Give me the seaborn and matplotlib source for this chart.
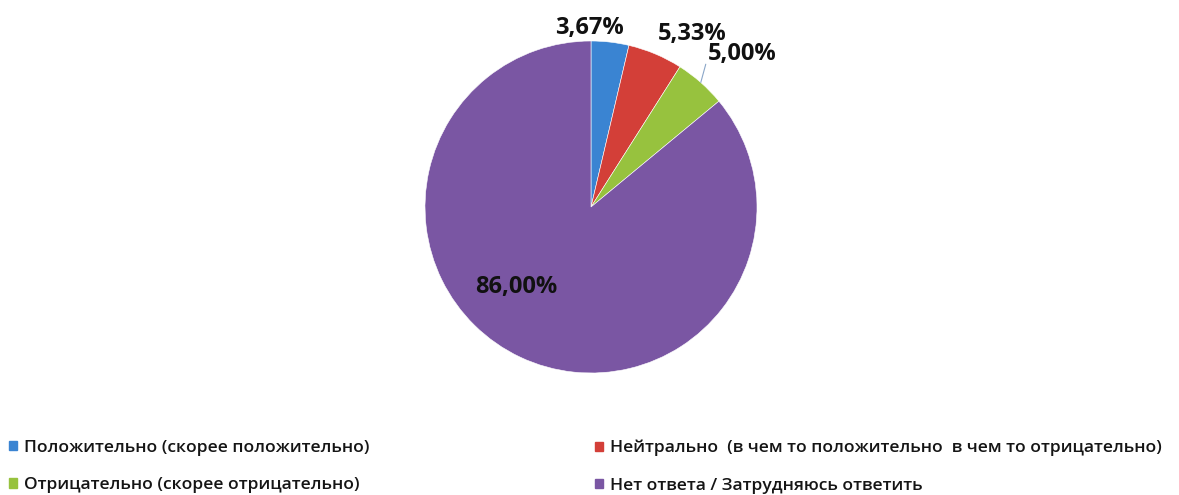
import matplotlib.pyplot as plt
import matplotlib.patches as mpatches
import numpy as np
import seaborn as sns

# Survey answers, shares in percent
categories = [
    "Положительно (скорее положительно)",
    "Нейтрально  (в чем то положительно  в чем то отрицательно)",
    "Отрицательно (скорее отрицательно)",
    "Нет ответа / Затрудняюсь ответить",
]
shares = [3.67, 5.33, 5.00, 86.00]
pct_labels = ["3,67%", "5,33%", "5,00%", "86,00%"]
colors = ["#3a84d2", "#d33f38", "#97c23e", "#7a56a3"]

sns.set_theme(style="white")
plt.rcParams["font.family"] = ["Open Sans", "DejaVu Sans"]

W, H = 1179, 495
fig = plt.figure(figsize=(W / 100, H / 100), dpi=100)

# pie centre and radius in pixels
cx, cy, r = 591, 207, 166
ax = fig.add_axes([(cx - r) / W, (H - cy - r) / H, 2 * r / W, 2 * r / H])

wedges, _ = ax.pie(
    shares,
    colors=colors,
    startangle=90,
    counterclock=False,
    wedgeprops={"edgecolor": "white", "linewidth": 0.4},
)
ax.set_xlim(-1, 1)
ax.set_ylim(-1, 1)
ax.set_aspect("equal")
ax.axis("off")

# label offsets (in pie radii) placed like the original
label_pos = [(-0.01, 1.08), (0.61, 1.04), (0.91, 0.92), (-0.45, -0.48)]
for (x, y), txt in zip(label_pos, pct_labels):
    ax.text(x, y, txt, ha="center", va="center", fontsize=17,
            fontweight="bold", color="#111111", clip_on=False)

# leader line for the green slice
ang = np.deg2rad(90 - (shares[0] + shares[1] + shares[2] / 2) * 3.6)
ax.plot([np.cos(ang), np.cos(ang) + 0.03],
        [np.sin(ang), np.sin(ang) + 0.11],
        color="#8aa6c8", lw=0.8, clip_on=False)

handles = [mpatches.Patch(color=c, label=l) for c, l in zip(colors, categories)]
leg_kw = dict(frameon=False, handlelength=0.45, handleheight=0.45,
              handletextpad=0.4, labelspacing=1.21, borderaxespad=0,
              labelcolor="#151515",
              prop={"weight": "semibold", "size": 12.6})
fig.legend(handles=[handles[0], handles[2]], loc="upper left",
           bbox_to_anchor=(2 / W, 1 - 433 / H), **leg_kw)
fig.legend(handles=[handles[1], handles[3]], loc="upper left",
           bbox_to_anchor=(588 / W, 1 - 433 / H), **leg_kw)

fig.savefig("out.png", dpi=100, facecolor="white")
